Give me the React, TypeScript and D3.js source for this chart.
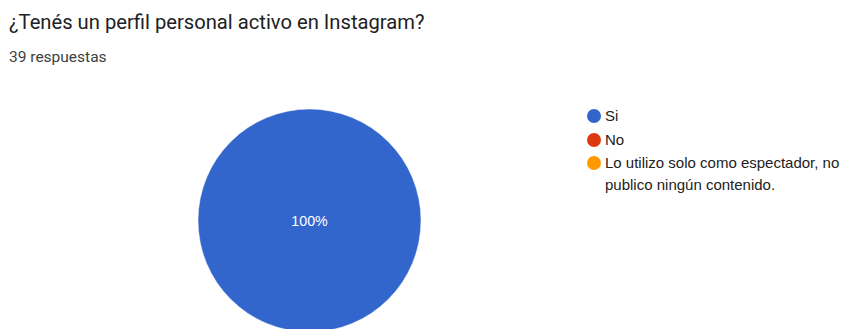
import React from "react";
import * as d3 from "d3";

const title = "¿Tenés un perfil personal activo en Instagram?";
const subtitle = "39 respuestas";
const categories = ["Si", "No", "Lo utilizo solo como espectador, no publico ningún contenido."];
const legendLines = [["Si"], ["No"], ["Lo utilizo solo como espectador, no", "publico ningún contenido."]];
const values = [39, 0, 0];
const colors = ["#3366cc", "#dc3912", "#ff9900"];

const W = 843;
const H = 329;

export default function App() {
  const cx = 309.5;
  const cy = 220.5;
  const r = 111.5;
  const total = d3.sum(values);
  const pie = d3.pie<number>().sort(null)(values);
  const arc = d3.arc<d3.PieArcDatum<number>>().innerRadius(0).outerRadius(r);
  const legendY = [116, 140, 163];
  return (
    <svg width={W} height={H} style={{ position: "absolute", left: 0, top: 0, background: "#fff" }}>
      <text x={9} y={29} fontFamily="Roboto" fontSize={20.2} fill="#202124">{title}</text>
      <text x={9} y={62} fontFamily="Roboto" fontSize={15.5} fill="#3c4043">{subtitle}</text>
      <g transform={`translate(${cx},${cy})`}>
        {pie.map((d, i) =>
          d.value > 0 ? <path key={i} d={arc(d) || ""} fill={colors[i]} stroke="#fff" strokeWidth={0.5} /> : null
        )}
        {pie.map((d, i) => {
          if (d.value <= 0) return null;
          const frac = d.value / total;
          const pos = frac === 1 ? [0, 0] : arc.centroid(d);
          return (
            <text key={"t" + i} x={pos[0]} y={pos[1] + 1} dy="0.35em" textAnchor="middle"
              fontFamily="Liberation Sans, Arial" fontSize={14.2} fill="#fff">
              {d3.format(".0%")(frac)}
            </text>
          );
        })}
      </g>
      {categories.map((c, i) => (
        <g key={c}>
          <circle cx={594} cy={legendY[i]} r={7} fill={colors[i]} />
          <text x={605} y={legendY[i]} fontFamily="Liberation Sans, Arial" fontSize={15} fill="#222">
            {legendLines[i].map((l, j) => (
              <tspan key={j} x={605} dy={j === 0 ? "0.35em" : 22}>{l}</tspan>
            ))}
          </text>
        </g>
      ))}
    </svg>
  );
}
